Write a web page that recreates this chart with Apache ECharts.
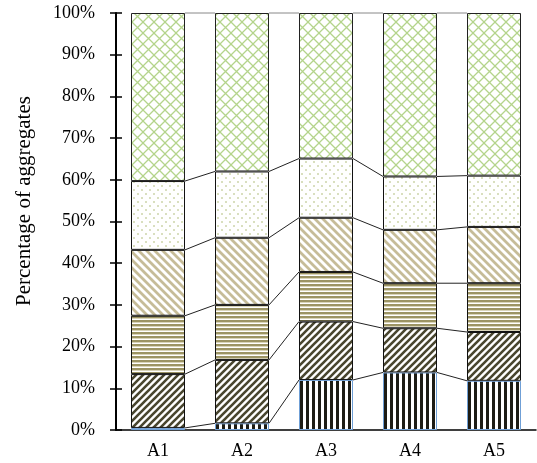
<!DOCTYPE html>
<html>
<head>
<meta charset="utf-8">
<script src="https://cdn.jsdelivr.net/npm/echarts@6/dist/echarts.min.js"></script>
<style>
html,body{margin:0;padding:0;background:#fff;}
#chart{width:537px;height:463px;}
</style>
</head>
<body>
<div id="chart"></div>
<script>
var categories = ['A1', 'A2', 'A3', 'A4', 'A5'];
var layer1 = [0.5, 1.6, 12.0, 13.8, 11.8];
var layer2 = [12.9, 15.2, 14.0, 10.6, 11.7];
var layer3 = [14.0, 13.2, 11.9, 10.8, 11.7];
var layer4 = [15.8, 16.1, 13.0, 12.8, 13.5];
var layer5 = [16.5, 15.9, 14.2, 12.8, 12.3];
var layer6 = [40.3, 38.0, 34.9, 39.2, 39.0];
var yTicks = [0, 10, 20, 30, 40, 50, 60, 70, 80, 90, 100];

var layers = [layer1, layer2, layer3, layer4, layer5, layer6];
var BAR_W = 54;

function makeCanvas(w, h) {
  var c = document.createElement('canvas');
  c.width = w; c.height = h;
  var ctx = c.getContext('2d');
  ctx.fillStyle = '#fff';
  ctx.fillRect(0, 0, w, h);
  return [c, ctx];
}
function vertStripes() {
  var r = makeCanvas(6, 6), ctx = r[1];
  ctx.fillStyle = '#1c1b14';
  ctx.fillRect(0, 0, 3, 6);
  return r[0];
}
function diag(p, lw, color, forward) {
  var r = makeCanvas(p, p), ctx = r[1];
  ctx.strokeStyle = color;
  ctx.lineWidth = lw;
  ctx.lineCap = 'square';
  ctx.beginPath();
  if (forward) {
    ctx.moveTo(-1, p + 1); ctx.lineTo(p + 1, -1);
    ctx.moveTo(-p - 1, p + 1); ctx.lineTo(1, -1);
    ctx.moveTo(p - 1, p + 1); ctx.lineTo(2 * p + 1, -1);
  } else {
    ctx.moveTo(-1, -1); ctx.lineTo(p + 1, p + 1);
    ctx.moveTo(-p - 1, -1); ctx.lineTo(1, p + 1);
    ctx.moveTo(p - 1, -1); ctx.lineTo(2 * p + 1, p + 1);
  }
  ctx.stroke();
  return r[0];
}
function horizStripes() {
  var r = makeCanvas(4, 4), ctx = r[1];
  ctx.fillStyle = '#9c9464';
  ctx.fillRect(0, 0, 4, 2);
  ctx.fillStyle = '#d9d4b9';
  ctx.fillRect(0, 2, 4, 1);
  return r[0];
}
function dots() {
  var r = makeCanvas(8, 8), ctx = r[1];
  ctx.fillStyle = '#d9dfbf';
  ctx.fillRect(1, 1, 2, 2);
  ctx.fillRect(5, 5, 2, 2);
  return r[0];
}
function cross() {
  var p = 11;
  var r = makeCanvas(p, p), ctx = r[1];
  ctx.strokeStyle = '#b4d48b';
  ctx.lineWidth = 1.3;
  ctx.beginPath();
  ctx.moveTo(0, 0); ctx.lineTo(p, p);
  ctx.moveTo(0, p); ctx.lineTo(p, 0);
  ctx.stroke();
  return r[0];
}

var patterns = [
  vertStripes(),
  diag(7, 2.6, '#49462f', true),
  horizStripes(),
  diag(8, 2.8, '#c6bc98', false),
  dots(),
  cross()
];
var borders = ['#6f9fd6', '#111', '#111', '#111', '#111', '#222'];

var cum = [];
(function () {
  for (var k = 0; k < layers.length; k++) {
    cum[k] = [];
    for (var i = 0; i < categories.length; i++) {
      cum[k][i] = (k === 0 ? 0 : cum[k - 1][i]) + layers[k][i];
    }
  }
})();

var series = layers.map(function (arr, k) {
  return {
    type: 'bar',
    stack: 'total',
    barWidth: BAR_W,
    data: arr,
    z: 2,
    itemStyle: {
      color: { image: patterns[k], repeat: 'repeat' },
      borderColor: borders[k],
      borderWidth: 1
    }
  };
});

series.push({
  type: 'custom',
  coordinateSystem: 'cartesian2d',
  z: 5,
  silent: true,
  data: categories.slice(0, categories.length - 1).map(function (c, i) { return [i, 0]; }),
  renderItem: function (params, api) {
    var i = api.value(0);
    var children = [];
    for (var k = 0; k < cum.length; k++) {
      var p1 = api.coord([i, cum[k][i]]);
      var p2 = api.coord([i + 1, cum[k][i + 1]]);
      var last = k === cum.length - 1;
      children.push({
        type: 'line',
        shape: { x1: p1[0] + BAR_W / 2, y1: p1[1], x2: p2[0] - BAR_W / 2, y2: p2[1] },
        style: { stroke: last ? '#888' : '#222', lineWidth: 1 }
      });
    }
    return { type: 'group', children: children };
  }
});

var chart = echarts.init(document.getElementById('chart'), null, { renderer: 'canvas' });
chart.setOption({
  animation: false,
  backgroundColor: '#fff',
  textStyle: { fontFamily: 'Liberation Serif' },
  grid: { left: 116, right: 1, top: 13, bottom: 33 },
  xAxis: {
    type: 'category',
    data: categories,
    axisLine: { lineStyle: { color: '#000', width: 1.5 } },
    axisTick: { show: false },
    axisLabel: { color: '#000', fontSize: 18, margin: 12, fontFamily: 'Liberation Serif' }
  },
  yAxis: [{
    type: 'value',
    min: 0, max: 100, interval: 10,
    splitLine: { show: false },
    axisLine: { show: true, lineStyle: { color: '#000', width: 2 } },
    axisTick: { show: true, length: 6, lineStyle: { color: '#000', width: 1.5 } },
    axisLabel: {
      color: '#000', fontSize: 18, margin: 21, fontFamily: 'Liberation Serif',
      formatter: function (v) { return yTicks.indexOf(v) >= 0 ? v + '%' : ''; }
    }
  }, {
    type: 'value',
    position: 'left',
    min: 0, max: 100, interval: 10,
    splitLine: { show: false },
    axisLine: { show: false },
    axisTick: { show: true, inside: true, length: 6, lineStyle: { color: '#000', width: 1.5 } },
    axisLabel: { show: false }
  }],
  graphic: [{
    type: 'text',
    x: 24, y: 201,
    rotation: Math.PI / 2,
    style: {
      text: 'Percentage of aggregates',
      fill: '#000',
      font: '21px "Liberation Serif"',
      textAlign: 'center',
      textVerticalAlign: 'middle'
    }
  }],
  series: series
});
</script>
</body>
</html>
